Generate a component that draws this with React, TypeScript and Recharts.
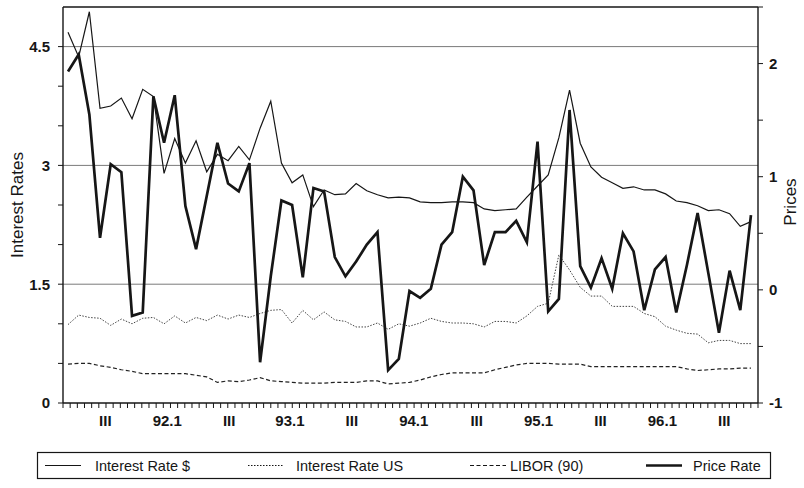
import React from "react";
import { LineChart, Line, XAxis, YAxis, ReferenceLine } from "recharts";

// monthly observations, left axis (interest rates)
const interestDollar = [
  4.68, 4.37, 4.94, 3.72, 3.75, 3.85, 3.59, 3.96, 3.87, 2.9, 3.34, 3.03, 3.31,
  2.92, 3.14, 3.06, 3.24, 3.07, 3.47, 3.81, 3.03, 2.78, 2.88, 2.48, 2.69, 2.63,
  2.64, 2.77, 2.68, 2.63, 2.59, 2.6, 2.59, 2.54, 2.53, 2.53, 2.54, 2.54, 2.53,
  2.45, 2.43, 2.44, 2.45, 2.6, 2.74, 2.88, 3.35, 3.95, 3.28, 2.98, 2.85, 2.78,
  2.71, 2.73, 2.69, 2.69, 2.64, 2.55, 2.53, 2.49, 2.43, 2.44, 2.39, 2.23, 2.29,
];
const interestUS = [
  0.99, 1.11, 1.08, 1.07, 0.98, 1.06, 1.0, 1.07, 1.08, 1.0, 1.1, 1.01, 1.08,
  1.04, 1.11, 1.06, 1.11, 1.08, 1.13, 1.17, 1.18, 1.01, 1.17, 1.05, 1.15, 1.05,
  1.03, 0.96, 0.96, 1.01, 0.93, 1.0, 0.97, 1.01, 1.07, 1.03, 1.01, 1.01, 1.0,
  0.96, 1.03, 1.03, 1.01, 1.1, 1.22, 1.26, 1.87, 1.68, 1.46, 1.35, 1.35, 1.22,
  1.22, 1.22, 1.13, 1.09, 0.97, 0.92, 0.88, 0.87, 0.76, 0.79, 0.79, 0.75, 0.75,
];
const libor90 = [
  0.49, 0.5, 0.5, 0.47, 0.45, 0.42, 0.4, 0.37, 0.37, 0.37, 0.37, 0.37, 0.35,
  0.33, 0.26, 0.28, 0.27, 0.29, 0.32, 0.28, 0.27, 0.26, 0.25, 0.25, 0.25, 0.26,
  0.26, 0.26, 0.28, 0.28, 0.24, 0.25, 0.26, 0.29, 0.33, 0.36, 0.38, 0.38, 0.38,
  0.38, 0.42, 0.45, 0.48, 0.5, 0.5, 0.5, 0.49, 0.49, 0.49, 0.46, 0.46, 0.46,
  0.46, 0.46, 0.46, 0.46, 0.46, 0.46, 0.43, 0.41, 0.42, 0.43, 0.43, 0.44, 0.44,
];
// right axis (prices)
const priceRate = [
  1.93, 2.08, 1.55, 0.46, 1.11, 1.04, -0.23, -0.2, 1.71, 1.3, 1.72, 0.74, 0.36,
  0.83, 1.3, 0.94, 0.87, 1.12, -0.64, 0.12, 0.79, 0.75, 0.11, 0.9, 0.87, 0.29,
  0.12, 0.25, 0.4, 0.51, -0.71, -0.61, -0.01, -0.07, 0.01, 0.4, 0.51, 1.0, 0.88,
  0.22, 0.51, 0.51, 0.61, 0.42, 1.31, -0.19, -0.08, 1.59, 0.21, 0.02, 0.28, 0.01,
  0.5, 0.34, -0.18, 0.18, 0.29, -0.2, 0.22, 0.68, 0.15, -0.38, 0.17, -0.18, 0.66,
];

const xLabels = ["III", "92.1", "III", "93.1", "III", "94.1", "III", "95.1", "III", "96.1", "III"];
const xLabelPos = [3.5, 9.3, 15.1, 20.8, 26.6, 32.4, 38.3, 44.1, 49.9, 55.7, 61.5];
const rateTicks = [0, 0.5, 1, 1.5, 2, 2.5, 3, 3.5, 4, 4.5];
const rateLabels = [0, 1.5, 3, 4.5];
const priceTicks = [-1, -0.5, 0, 0.5, 1, 1.5, 2, 2.5];
const priceLabels = [-1, 0, 1, 2];
const gridLines = [1.5, 3, 4.5];

const X_MIN = -0.47;
const X_MAX = 64.66;
// small unlabelled marks along the time axis
const minorTicks = Array.from({ length: 98 }, (_, k) => X_MIN + (k * (X_MAX - X_MIN)) / 97);

const data = interestDollar.map((v, i) => ({
  idx: i,
  dollar: v,
  us: interestUS[i],
  libor: libor90[i],
  price: priceRate[i],
}));

const FONT = "Arial, 'Liberation Sans', Helvetica, sans-serif";
const INK = "#161616";

function TimeTick(props: any) {
  const { x, y, payload } = props;
  const k = xLabelPos.indexOf(payload.value);
  if (k >= 0) {
    return (
      <text x={x} y={y + 23} textAnchor="middle" fontFamily={FONT} fontWeight="bold" fontSize={15} fill={INK}>
        {xLabels[k]}
      </text>
    );
  }
  return <line x1={x} x2={x} y1={y} y2={y + 5} stroke={INK} strokeWidth={1} />;
}

const legendItems = [
  { label: "Interest Rate $", lineX: 45, textX: 95, width: 1.2, dash: undefined as string | undefined },
  { label: "Interest Rate US", lineX: 248, textX: 296, width: 1, dash: "1.5 1.5" },
  { label: "LIBOR (90)", lineX: 470, textX: 510, width: 1.2, dash: "4 2.5" },
  { label: "Price Rate", lineX: 646, textX: 693, width: 2.6, dash: undefined },
];

export default function App() {
  return (
    <div style={{ position: "absolute", left: 0, top: 0, width: 804, height: 488, background: "#fff" }}>
      <LineChart width={804} height={488} data={data} margin={{ top: 7, right: 0, bottom: 55, left: 0 }}>
        <XAxis
          dataKey="idx"
          type="number"
          domain={[X_MIN, X_MAX]}
          ticks={[...minorTicks, ...xLabelPos]}
          interval={0}
          height={30}
          tickSize={0}
          tickMargin={0}
          tickLine={false}
          tick={<TimeTick />}
          axisLine={{ stroke: INK, strokeWidth: 1.4 }}
        />
        <YAxis
          yAxisId="rate"
          orientation="left"
          width={63}
          domain={[0, 5]}
          ticks={rateTicks}
          interval={0}
          tickSize={5}
          tickMargin={8}
          tickLine={{ stroke: INK }}
          axisLine={{ stroke: INK, strokeWidth: 1.4 }}
          tickFormatter={(v: number) => (rateLabels.includes(v) ? String(v) : "")}
          tick={{ fill: INK, fontFamily: FONT, fontWeight: "bold", fontSize: 15 }}
          label={() => (
            <text
              x={17}
              y={205}
              transform="rotate(-90 17 205)"
              textAnchor="middle"
              dominantBaseline="central"
              fontFamily={FONT}
              fontSize={17}
              fill={INK}
            >
              Interest Rates
            </text>
          )}
        />
        <YAxis
          yAxisId="price"
          orientation="right"
          width={46}
          domain={[-1, 2.5]}
          ticks={priceTicks}
          interval={0}
          tickSize={5}
          tickMargin={6}
          tickLine={{ stroke: INK }}
          axisLine={{ stroke: INK, strokeWidth: 1.4 }}
          tickFormatter={(v: number) => (priceLabels.includes(v) ? String(v) : "")}
          tick={{ fill: INK, fontFamily: FONT, fontWeight: "bold", fontSize: 15 }}
          label={() => (
            <text
              x={790}
              y={202}
              transform="rotate(-90 790 202)"
              textAnchor="middle"
              dominantBaseline="central"
              fontFamily={FONT}
              fontSize={17}
              fill={INK}
            >
              Prices
            </text>
          )}
        />
        {gridLines.map((g) => (
          <ReferenceLine key={g} yAxisId="rate" y={g} stroke="#7a7a7a" strokeWidth={1} />
        ))}
        <ReferenceLine yAxisId="rate" y={5} stroke={INK} strokeWidth={1.4} />

        <Line
          yAxisId="rate"
          dataKey="libor"
          type="linear"
          stroke="#222"
          strokeWidth={1.2}
          strokeDasharray="4 2.5"
          dot={false}
          isAnimationActive={false}
        />
        <Line
          yAxisId="rate"
          dataKey="us"
          type="linear"
          stroke="#444"
          strokeWidth={1}
          strokeDasharray="1.5 1.5"
          dot={false}
          isAnimationActive={false}
        />
        <Line
          yAxisId="rate"
          dataKey="dollar"
          type="linear"
          stroke={INK}
          strokeWidth={1.2}
          dot={false}
          isAnimationActive={false}
        />
        <Line
          yAxisId="price"
          dataKey="price"
          type="linear"
          stroke={INK}
          strokeWidth={2.7}
          dot={false}
          isAnimationActive={false}
        />
      </LineChart>

      {/* legend box under the plot */}
      <svg width={804} height={40} style={{ position: "absolute", left: 0, top: 448 }}>
        <rect x={37.5} y={4.5} width={733} height={26} fill="#fff" stroke={INK} strokeWidth={1.2} />
        {legendItems.map((it) => (
          <g key={it.label}>
            <line
              x1={it.lineX}
              x2={it.lineX + 36}
              y1={17.5}
              y2={17.5}
              stroke={INK}
              strokeWidth={it.width}
              strokeDasharray={it.dash}
            />
            <text x={it.textX} y={17.5} dominantBaseline="central" fontFamily={FONT} fontSize={14.5} fill={INK}>
              {it.label}
            </text>
          </g>
        ))}
      </svg>
    </div>
  );
}
